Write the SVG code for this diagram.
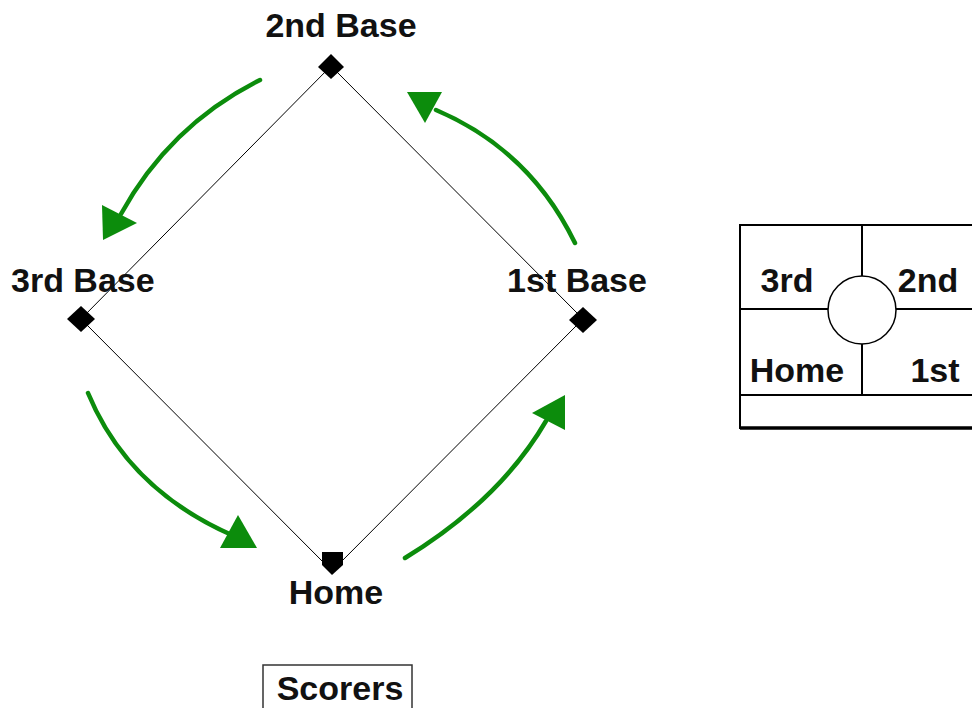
<svg xmlns="http://www.w3.org/2000/svg" width="972" height="708" viewBox="0 0 972 708">
<style>
text{font-family:"Liberation Sans",Arial,sans-serif;font-weight:bold;font-size:34px;fill:#111}
.lbl{text-anchor:middle}
.arc{fill:none;stroke:#0c8c0c;stroke-width:4.5;stroke-linecap:round}
.head{fill:#0c8c0c}
.base{fill:#000}
.tl{stroke:#000;stroke-width:2;fill:none}
</style>
<rect width="972" height="708" fill="#fff"/>
<g id="field">
<polygon points="331,66 583,319 332,571 81,319" fill="none" stroke="#000" stroke-width="1"/>
</g>
<g id="second-base">
<polygon class="base" points="331,54 344,67 331,79 318,67"/>
<text class="lbl" x="341" y="37">2nd Base</text>
</g>
<g id="third-base">
<polygon class="base" points="81,306 95,319 81,332 67,319"/>
<text x="11" y="292">3rd Base</text>
</g>
<g id="first-base">
<polygon class="base" points="583,307 597,320 583,333 569,320"/>
<text class="lbl" x="577" y="292">1st Base</text>
</g>
<g id="home">
<polygon class="base" points="322,552 343,552 343,565 332,575 322,565"/>
<text class="lbl" x="336" y="604">Home</text>
</g>
<g id="connectors">
<path class="arc" d="M260,80 Q170,125 121,214"/>
<polygon class="head" points="102,205 137,223 103,240"/>
<path class="arc" d="M88,393 Q128,490 234,536"/>
<polygon class="head" points="220,548 238,515 257,548"/>
<path class="arc" d="M405,558 Q500,500 546,421"/>
<polygon class="head" points="532,413 565,395 565,430"/>
<path class="arc" d="M575,243 Q530,150 436,110"/>
<polygon class="head" points="407,92 442,92 425,123"/>
</g>
<g id="scoreboard">
<rect class="tl" x="740" y="225" width="250" height="203"/>
<line class="tl" x1="862" y1="225" x2="862" y2="395"/>
<line class="tl" x1="740" y1="309" x2="972" y2="309"/>
<line class="tl" x1="740" y1="395" x2="972" y2="395"/>
<line stroke="#000" stroke-width="3.5" x1="740" y1="428" x2="972" y2="428"/>
<circle cx="862" cy="310" r="34" fill="#fff" stroke="#000" stroke-width="1.5"/>
<text class="lbl" x="787" y="292">3rd</text>
<text class="lbl" x="928" y="292">2nd</text>
<text class="lbl" x="797" y="382">Home</text>
<text class="lbl" x="935" y="382">1st</text>
</g>
<g id="scorers">
<rect x="263" y="665" width="149" height="60" fill="none" stroke="#333" stroke-width="1.5"/>
<text class="lbl" x="340" y="700" font-size="33">Scorers</text>
</g>
</svg>
